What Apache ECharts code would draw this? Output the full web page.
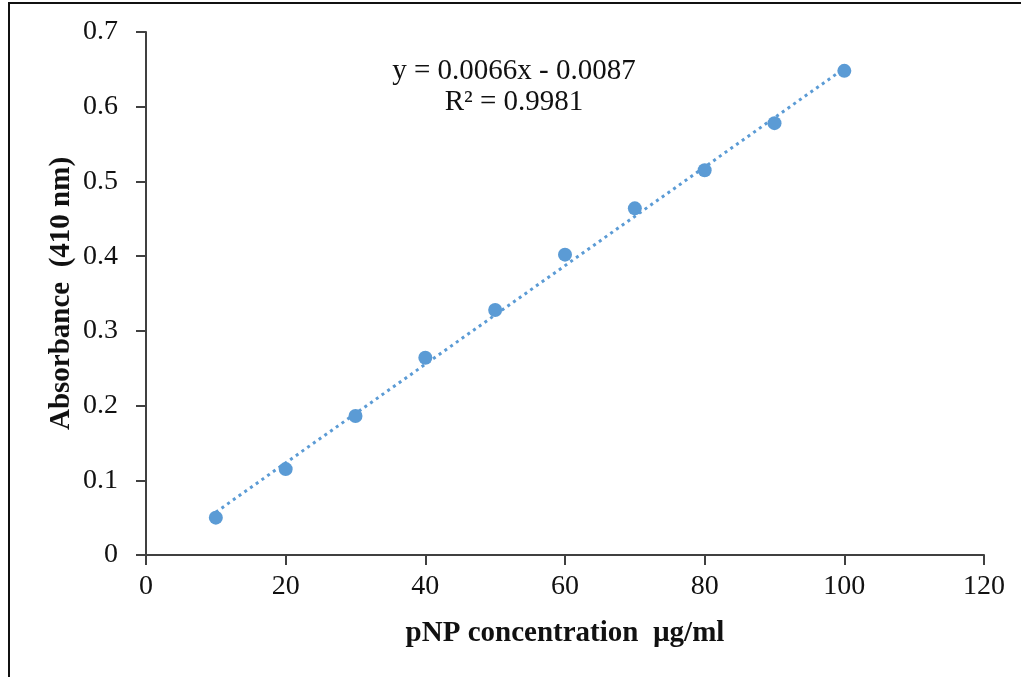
<!DOCTYPE html>
<html>
<head>
<meta charset="utf-8">
<script src="https://cdn.jsdelivr.net/npm/echarts@6/dist/echarts.min.js"></script>
<style>
  html, body { margin: 0; padding: 0; background: #fff; }
  #chart { width: 1021px; height: 677px; }
</style>
</head>
<body>
<div id="chart"></div>
<script>
// pNP standard curve
const concentration = [10, 20, 30, 40, 50, 60, 70, 80, 90, 100]
const absorbance = [0.050, 0.115, 0.186, 0.264, 0.328, 0.402, 0.464, 0.515, 0.578, 0.648]
const slope = 0.0066
const intercept = -0.0087
const trendX = [10, 100]
const equationLines = ['y = 0.0066x - 0.0087', 'R² = 0.9981']

const blue = '#5B9BD5'
const axisColor = '#404040'
const serif = '"Liberation Serif", "Times New Roman", serif'

const points = concentration.map((x, i) => [x, absorbance[i]])
const trend = trendX.map(x => [x, slope * x + intercept])

const chart = echarts.init(document.getElementById('chart'), null, { renderer: 'canvas' })
chart.setOption({
  animation: false,
  grid: { left: 146, right: 37, top: 32, bottom: 122 },
  graphic: [
    {
      type: 'rect',
      shape: { x: 9, y: 3, width: 1100, height: 800 },
      style: { fill: 'none', stroke: '#111', lineWidth: 2 }
    },
    {
      type: 'text',
      style: {
        text: equationLines.join('\n'),
        x: 514, y: 56,
        align: 'center',
        font: '29px ' + serif,
        lineHeight: 31,
        fill: '#111'
      }
    }
  ],
  xAxis: {
    type: 'value',
    min: 0, max: 120, interval: 20,
    name: 'pNP concentration  µg/ml',
    nameLocation: 'middle',
    nameGap: 64,
    nameTextStyle: { fontFamily: serif, fontWeight: 'bold', fontSize: 29, color: '#111' },
    axisLine: { onZero: false, lineStyle: { color: axisColor, width: 2 } },
    axisTick: { show: true, length: 10, lineStyle: { color: axisColor, width: 2 } },
    axisLabel: { fontFamily: serif, fontSize: 28, color: '#111', margin: 18 },
    splitLine: { show: false }
  },
  yAxis: {
    type: 'value',
    min: 0, max: 0.7, interval: 0.1,
    name: 'Absorbance  (410 nm)',
    nameLocation: 'middle',
    nameGap: 70,
    nameMoveOverlap: false,
    nameRotate: 90,
    nameTextStyle: { fontFamily: serif, fontWeight: 'bold', fontSize: 29, color: '#111' },
    axisLine: { show: true, lineStyle: { color: axisColor, width: 2 } },
    axisTick: { show: true, length: 10, lineStyle: { color: axisColor, width: 2 } },
    axisLabel: { fontFamily: serif, fontSize: 28, color: '#111', margin: 28 },
    splitLine: { show: false }
  },
  series: [
    {
      type: 'line',
      data: trend,
      symbol: 'none',
      lineStyle: { color: blue, width: 3, type: [3, 4] },
      z: 1
    },
    {
      type: 'scatter',
      data: points,
      symbolSize: 14,
      itemStyle: { color: blue, opacity: 1 },
      z: 2
    }
  ]
})
</script>
</body>
</html>
